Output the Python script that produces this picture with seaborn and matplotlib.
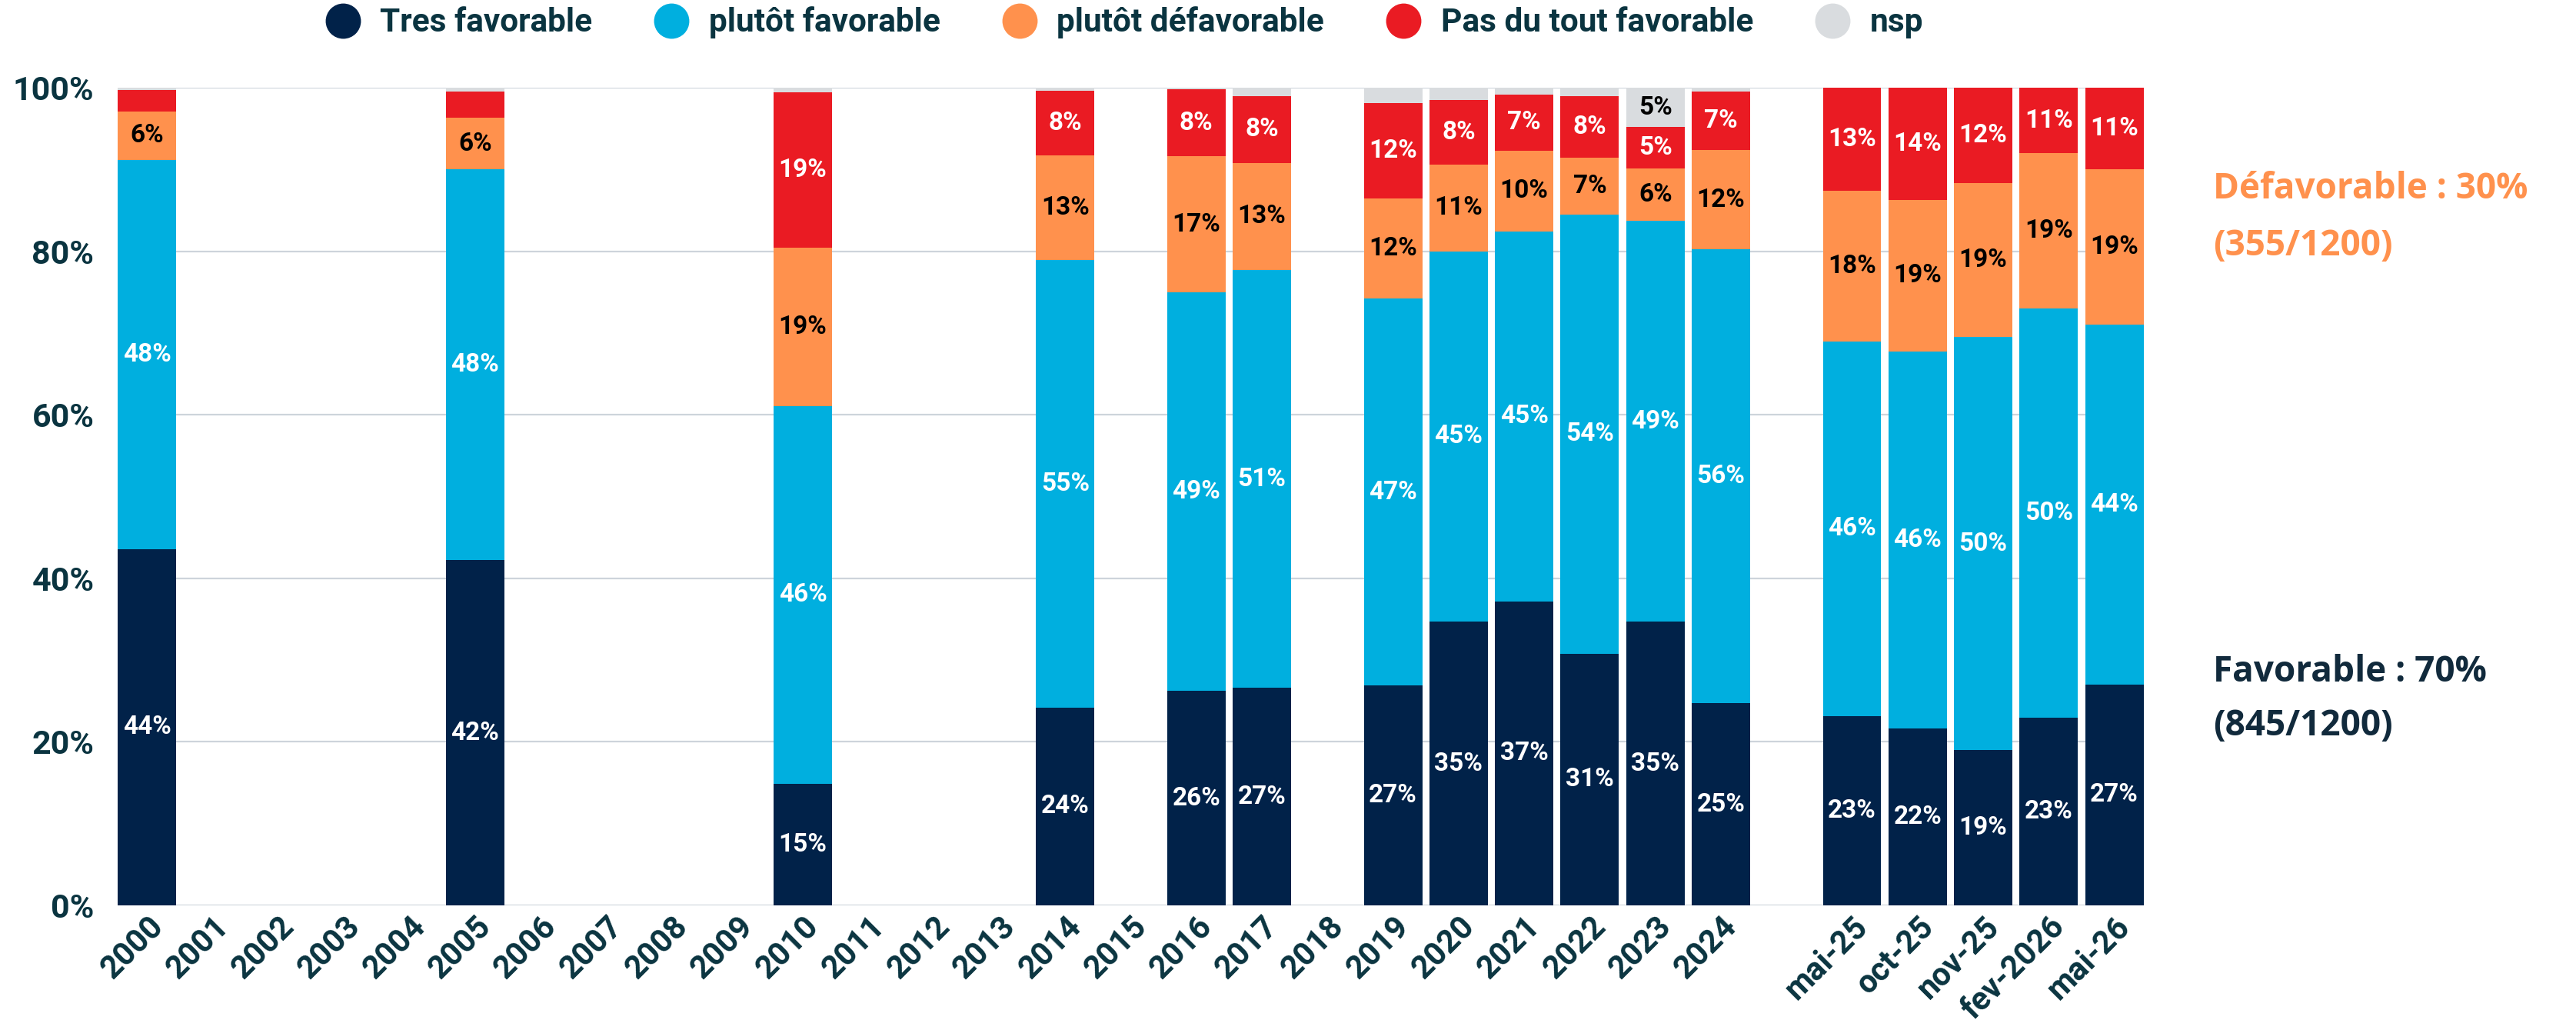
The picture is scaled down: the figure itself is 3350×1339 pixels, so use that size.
import matplotlib
matplotlib.use("Agg")
import matplotlib.pyplot as plt
import seaborn as sns
import pandas as pd
from matplotlib.lines import Line2D

# ---------------- data ----------------
categories = ["2000", "2001", "2002", "2003", "2004", "2005", "2006", "2007", "2008",
              "2009", "2010", "2011", "2012", "2013", "2014", "2015", "2016", "2017",
              "2018", "2019", "2020", "2021", "2022", "2023", "2024", " ",
              "mai-25", "oct-25", "nov-25", "fev-2026", "mai-26"]

surveys = ["2000", "2005", "2010", "2014", "2016", "2017", "2019", "2020", "2021",
           "2022", "2023", "2024", "mai-25", "oct-25", "nov-25", "fev-2026", "mai-26"]

series_names = ["Tres favorable", "plutôt favorable", "plutôt défavorable",
                "Pas du tout favorable", "nsp"]

tres_favorable = [43.6, 42.2, 14.9, 24.2, 26.2, 26.6, 26.9, 34.7, 37.2, 30.8, 34.7, 24.7,
                  23.1, 21.6, 19.0, 23.0, 27.0]
plutot_favorable = [47.6, 47.8, 46.2, 54.7, 48.8, 51.1, 47.3, 45.3, 45.2, 53.7, 49.0, 55.5,
                    45.9, 46.1, 50.5, 50.0, 44.0]
plutot_defavorable = [5.9, 6.3, 19.3, 12.8, 16.6, 13.1, 12.3, 10.6, 9.9, 6.9, 6.4, 12.2,
                      18.4, 18.6, 18.8, 19.0, 19.0]
pas_du_tout = [2.6, 3.2, 19.0, 7.9, 8.2, 8.2, 11.6, 7.9, 6.9, 7.6, 5.1, 7.1,
               12.6, 13.7, 11.7, 11.0, 11.0]
nsp = [0.3, 0.5, 0.6, 0.4, 0.2, 1.0, 1.9, 1.5, 0.8, 1.0, 4.8, 0.5,
       0.0, 0.0, 0.0, 0.0, 0.0]

yticks = [0, 20, 40, 60, 80, 100]
ytick_labels = ["0%", "20%", "40%", "60%", "80%", "100%"]

annot_defav = ["Défavorable : 30%", "(355/1200)"]
annot_fav = ["Favorable : 70%", "(845/1200)"]

# ---------------- style ----------------
colors = ["#012249", "#00AFDF", "#FF914D", "#EA1B23", "#D9DCDF"]
label_colors = ["white", "white", "black", "white", "black"]
text_col = "#0a3440"
fav_col = "#112a3c"
defav_col = "#FF914D"
grid_col = "#CDD4DB"

sns.set_theme(style="white")
plt.rcParams["font.family"] = ["Roboto", "DejaVu Sans"]

values = [tres_favorable, plutot_favorable, plutot_defavorable, pas_du_tout, nsp]
df = pd.DataFrame({"cat": surveys})
cum = [0.0] * len(surveys)
cum_cols = []
for name, vals in zip(series_names, values):
    cum = [c + v for c, v in zip(cum, vals)]
    df[name] = cum
    cum_cols.append(name)

fig = plt.figure(figsize=(33.5, 13.39), dpi=100)
ax = fig.add_axes([153 / 3350, 1 - 1177 / 1339, (2788 - 153) / 3350, (1177 - 114) / 1339])

# draw stacked bars: from top layer (cumulative total) down to bottom layer
for name, col in reversed(list(zip(cum_cols, colors))):
    sns.barplot(data=df, x="cat", y=name, order=categories, color=col, saturation=1,
                width=0.89, errorbar=None, linewidth=0, ax=ax, zorder=2)

ax.set_xlim(-0.45, len(categories) - 0.55)
ax.set_ylim(0, 100)
ax.set_yticks(yticks)
ax.set_yticklabels(ytick_labels)
ax.set_xticks(range(len(categories)))
ax.set_xticklabels(categories, rotation=45, ha="right", va="top", rotation_mode="anchor")
ax.set_xlabel("")
ax.set_ylabel("")
for sp in ax.spines.values():
    sp.set_visible(False)
ax.yaxis.grid(True, color=grid_col, linewidth=1.6, zorder=0)
ax.set_axisbelow(True)
ax.tick_params(axis="y", length=0, pad=22, labelsize=31, labelcolor=text_col)
ax.tick_params(axis="x", length=0, pad=5, labelsize=30, labelcolor=text_col)
for lab in ax.get_xticklabels() + ax.get_yticklabels():
    lab.set_fontweight("bold")

# data labels
for i, s in enumerate(surveys):
    x = categories.index(s)
    bottom = 0.0
    for k, vals in enumerate(values):
        v = vals[i]
        top = bottom + v
        if v >= 4:
            yc = (bottom + min(top, 100)) / 2
            ax.text(x, yc, f"{round(v)}%", ha="center", va="center", fontsize=24,
                    fontweight="bold", color=label_colors[k], zorder=5)
        bottom = top

# legend
handles = [Line2D([0], [0], marker="o", linestyle="", markersize=32,
                  markerfacecolor=c, markeredgecolor=c) for c in colors]
leg = fig.legend(handles, series_names, loc="center", bbox_to_anchor=(0.436, 0.978),
                 ncol=5, frameon=False, handletextpad=0.54, columnspacing=1.84,
                 handlelength=1.2,
                 prop={"family": "Roboto", "weight": "bold", "size": 30.5})
for t in leg.get_texts():
    t.set_color(text_col)

# side annotations
for txt, ypix, col in [(annot_defav[0], 246, defav_col), (annot_defav[1], 320, defav_col),
                       (annot_fav[0], 873, fav_col), (annot_fav[1], 943, fav_col)]:
    fig.text(2878 / 3350, 1 - ypix / 1339, txt, ha="left", va="center",
             fontsize=33, fontweight="bold", color=col,
             family=["Open Sans", "Roboto", "DejaVu Sans"])

fig.savefig("out.png", dpi=100)
